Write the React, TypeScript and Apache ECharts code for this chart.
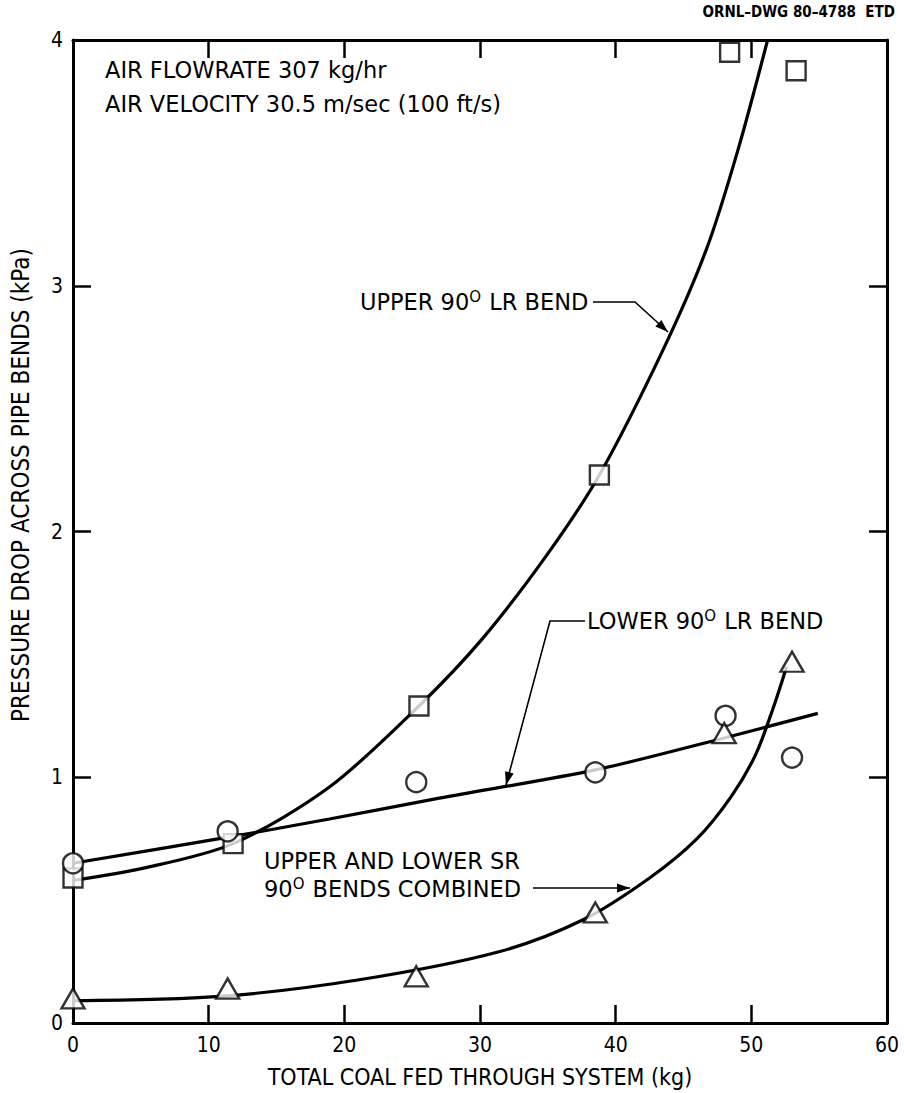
import React, { useEffect, useRef } from "react";
import * as echarts from "echarts";

// Measured points (x = total coal fed, kg; y = pressure drop, kPa)
const upperLRPoints: number[][] = [
  [0, 0.59], [11.8, 0.73], [25.5, 1.29], [38.8, 2.23], [48.4, 3.95], [53.3, 3.875],
];
const lowerLRPoints: number[][] = [
  [0, 0.65], [11.4, 0.78], [25.3, 0.98], [38.5, 1.02], [48.1, 1.25], [53.0, 1.08],
];
const srPoints: number[][] = [
  [0, 0.1], [11.4, 0.14], [25.3, 0.19], [38.5, 0.45], [48.0, 1.18], [53.0, 1.47],
];

// Faired curves traced through the data
const upperLRCurve: number[][] = [
  [0, 0.58], [5.2, 0.63], [11.8, 0.73], [18.9, 0.96], [25.5, 1.29], [30.2, 1.565],
  [35, 1.91], [38.8, 2.23], [43.5, 2.74], [46.7, 3.15], [49, 3.55], [51.2, 4.0],
];
const lowerLRCurve: number[][] = [
  [0, 0.65], [10.8, 0.75], [18.9, 0.83], [27, 0.915], [38.5, 1.03], [48, 1.16], [54.9, 1.26],
];
const srCurve: number[][] = [
  [0, 0.09], [10.8, 0.108], [21.1, 0.176], [31.4, 0.29], [37.6, 0.42],
  [42.5, 0.59], [46, 0.75], [48.5, 0.92], [50.3, 1.09], [51.6, 1.28], [52.6, 1.45],
];

const xTicks = { min: 0, max: 60, interval: 10 };
const yTicks = { min: 0, max: 4, interval: 1 };

const xTitle = "TOTAL COAL FED THROUGH SYSTEM (kg)";
const yTitle = "PRESSURE DROP ACROSS PIPE BENDS (kPa)";
const drawingId = "ORNL–DWG 80–4788  ETD";

const FONT = "'DejaVu Sans Condensed', 'Liberation Sans Narrow', 'Liberation Sans', sans-serif";
const TEXT_FONT = "'DejaVu Sans', 'Liberation Sans', sans-serif";

function arrowHead(from: number[], to: number[], len = 13, half = 4.5) {
  const dx = to[0] - from[0];
  const dy = to[1] - from[1];
  const d = Math.hypot(dx, dy);
  const ux = dx / d;
  const uy = dy / d;
  const bx = to[0] - ux * len;
  const by = to[1] - uy * len;
  return {
    type: "polygon",
    shape: {
      points: [
        [to[0], to[1]],
        [bx - uy * half, by + ux * half],
        [bx + uy * half, by - ux * half],
      ],
    },
    style: { fill: "#000" },
    silent: true,
  };
}

function leader(points: number[][]) {
  return [
    {
      type: "polyline",
      shape: { points },
      style: { stroke: "#000", lineWidth: 1.6, fill: null },
      silent: true,
    },
    arrowHead(points[points.length - 2], points[points.length - 1]),
  ];
}

const richBase = {
  sup: { fontSize: 15, fontFamily: TEXT_FONT, verticalAlign: "top", lineHeight: 26, padding: [0, 1, 11, 0] },
};

function label(x: number, y: number, text: string, size = 22.5) {
  return {
    type: "text",
    x,
    y,
    silent: true,
    style: {
      text,
      fontSize: size,
      fontFamily: TEXT_FONT,
      fill: "#000",
      textVerticalAlign: "middle",
      verticalAlign: "middle",
      rich: richBase,
    },
  };
}

export default function App() {
  const ref = useRef<HTMLDivElement>(null);

  useEffect(() => {
    if (!ref.current) return;
    const chart = echarts.init(ref.current, null, { renderer: "svg" });

    const lineSeries = (data: number[][]) => ({
      type: "line",
      data,
      smooth: 0.3,
      showSymbol: false,
      symbol: "none",
      clip: false,
      lineStyle: { color: "#000", width: 3.2 },
      z: 3,
    });

    const markerSeries = (data: number[][], symbol: string, size: number | number[]) => ({
      type: "scatter",
      data,
      symbol,
      symbolSize: size,
      clip: false,
      itemStyle: { color: "#fff", borderColor: "#000", borderWidth: 2.4 },
      z: 5,
    });

    const axisCommon = {
      type: "value",
      splitLine: { show: false },
      axisLine: { show: true, onZero: false, lineStyle: { color: "#000", width: 3 } },
      axisTick: { show: true, inside: true, length: 18, lineStyle: { color: "#000", width: 2.5 } },
    };

    chart.setOption({
      animation: false,
      backgroundColor: "#fff",
      grid: { left: 73, right: 17, top: 40, bottom: 68 },
      xAxis: [
        {
          ...axisCommon,
          ...xTicks,
          position: "bottom",
          axisLabel: { color: "#000", fontSize: 21, fontFamily: FONT, margin: 11 },
          name: xTitle,
          nameLocation: "middle",
          nameGap: 42,
          nameTextStyle: { color: "#000", fontSize: 23, fontFamily: FONT },
        },
        {
          ...axisCommon,
          ...xTicks,
          position: "top",
          axisLabel: { show: false },
        },
      ],
      yAxis: [
        {
          ...axisCommon,
          ...yTicks,
          position: "left",
          axisLabel: { color: "#000", fontSize: 21, fontFamily: FONT, margin: 10 },
        },
        {
          ...axisCommon,
          ...yTicks,
          position: "right",
          axisLabel: { show: false },
        },
      ],
      series: [
        lineSeries(upperLRCurve),
        lineSeries(lowerLRCurve),
        lineSeries(srCurve),
        markerSeries(upperLRPoints, "rect", 19),
        markerSeries(lowerLRPoints, "circle", 20),
        markerSeries(srPoints, "triangle", [23, 20]),
      ],
      graphic: [
        {
          type: "text",
          right: 9,
          top: 4,
          silent: true,
          style: {
            text: drawingId,
            fontSize: 15,
            fontWeight: "bold",
            fontFamily: FONT,
            fill: "#000",
          },
        },
        {
          type: "text",
          x: 21,
          y: 485,
          rotation: Math.PI / 2,
          silent: true,
          style: {
            text: yTitle,
            fontSize: 24,
            fontFamily: FONT,
            fill: "#000",
            align: "center",
            verticalAlign: "middle",
          },
        },
        label(105, 70, "AIR FLOWRATE 307 kg/hr"),
        label(105, 104, "AIR VELOCITY 30.5 m/sec (100 ft/s)"),
        label(360, 302, "UPPER 90{sup|O} LR BEND"),
        ...leader([[593, 302], [635, 302], [668, 332]]),
        label(587, 621, "LOWER 90{sup|O} LR BEND"),
        ...leader([[585, 621], [550, 621], [506, 785]]),
        label(264, 861, "UPPER AND LOWER SR"),
        label(264, 889, "90{sup|O} BENDS COMBINED"),
        ...leader([[533, 888], [630, 888]]),
      ],
    });

    return () => chart.dispose();
  }, []);

  return (
    <div
      ref={ref}
      style={{ position: "fixed", left: 0, top: 0, width: 904, height: 1093 }}
    />
  );
}
